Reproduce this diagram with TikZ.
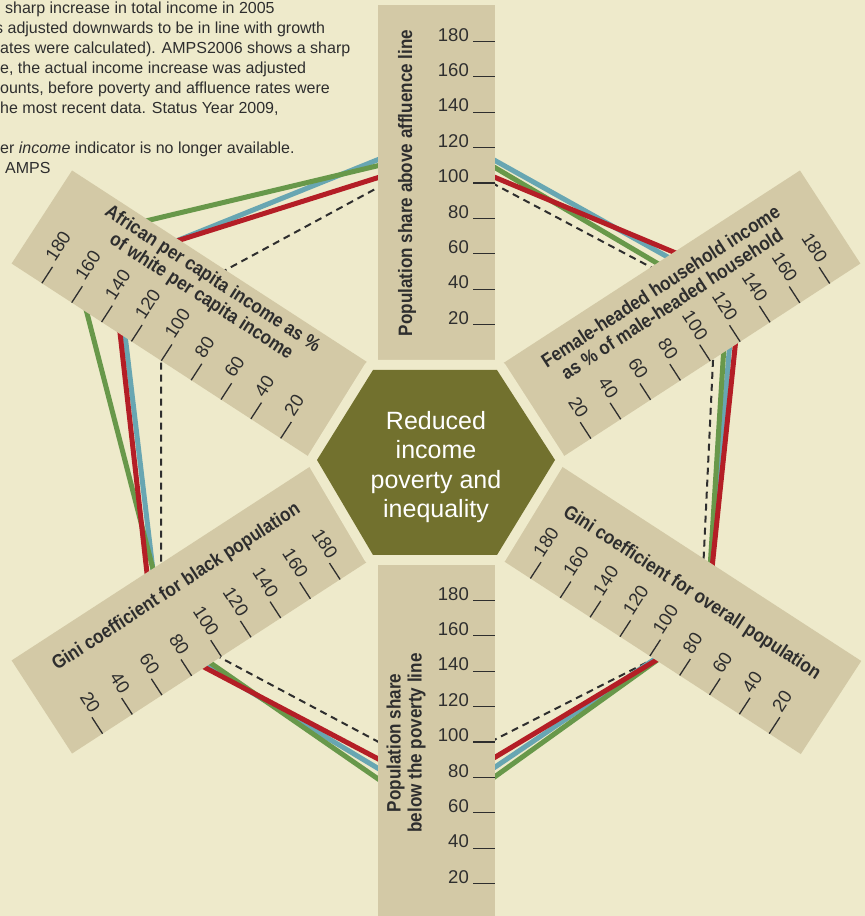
\documentclass[tikz,border=0pt]{standalone}
\usepackage{fontspec}
\setmainfont{Liberation Sans}
\newfontfamily\condbold{Liberation Sans}[FakeStretch=0.88]

\definecolor{bgcol}{HTML}{EEEACB}
\definecolor{barcol}{HTML}{D3C9A6}
\definecolor{hexcol}{HTML}{72712E}
\definecolor{ink}{HTML}{2E2E2E}
\definecolor{greenline}{HTML}{68984A}
\definecolor{blueline}{HTML}{68A6B2}
\definecolor{redline}{HTML}{B41E26}

\begin{document}
\begin{tikzpicture}[x=1pt, y=1pt,
	bar/.style={fill=barcol},
	tickline/.style={draw=ink, line width=1.3pt},
	num/.style={inner sep=0pt, text=ink, font=\fontsize{18.5}{21}\selectfont},
	bartitle/.style={inner sep=0pt, text=ink, align=center, font=\condbold\bfseries\fontsize{19.4}{21}\selectfont},
	series/.style={line width=5pt, line join=round}]

	\fill[bgcol] (0,0) rectangle (865,916);
	\useasboundingbox (0,0) rectangle (865,916);

	% data lines (corners sit under the bars)
	\draw[ink, line width=2pt, dash pattern=on 7pt off 5pt]
		(438.6,761.3) -- (715.8,614.4) -- (700,280.6) -- (433,145) -- (161,290) -- (161,611) -- cycle;
	\draw[series, blueline]  (445,783.4) -- (733.9,622) -- (706.6,292) -- (439,111) -- (161,278) -- (116.7,651) -- cycle;
	\draw[series, greenline] (459,769.6) -- (726.6,611.8) -- (706.5,291.3) -- (436,97) -- (170,281) -- (68,676.5) -- cycle;
	\draw[series, redline]   (445,759.5) -- (742,635.3) -- (705.5,285.5) -- (439,125) -- (154.6,275) -- (112,654.6) -- cycle;

	% top
	\begin{scope}[shift={(436,454)}, rotate=90]
		\fill[bar] (95,-58.5) rectangle (457,58.5);
		\foreach \v in {20,40,...,180} {
			\draw[tickline] ({279+(\v-100)*1.77},-37) -- ++(0,-21.5);
			\node[num, anchor=south east] (top\v) at ({279+(\v-100)*1.77},-33) {\v};
		}
		\node[bartitle, rotate=90] (topname) at (279,29) {Population share above affluence line};
	\end{scope}

	% upper right
	\begin{scope}[shift={(436,443)}, rotate=33]
		\fill[bar] (105,-55.5) rectangle (470,55.5);
		\foreach \v in {20,40,...,180} {
			\draw[tickline] ({291+(\v-100)*1.78},-36) -- ++(0,-19.5);
			\node[num, rotate=-57, anchor=south east] (ur\v) at ({291+(\v-100)*1.78},-33) {\v};
		}
		\node[bartitle, rotate=33] (urname) at (290,24) {Female-headed household income\\as \% of male-headed household};
	\end{scope}

	% lower right
	\begin{scope}[shift={(436,465)}, rotate=-33]
		\fill[bar] (105,-55.5) rectangle (471,55.5);
		\foreach \v in {20,40,...,180} {
			\draw[tickline] ({291-(\v-100)*1.78},-36) -- ++(0,-19.5);
			\node[num, rotate=57, anchor=south west] (lr\v) at ({291-(\v-100)*1.78},-32) {\v};
		}
		\node[bartitle, rotate=-33] (lrname) at (292,20) {Gini coefficient for overall population};
	\end{scope}

	% bottom
	\begin{scope}[shift={(436,454)}, rotate=-90]
		\fill[bar] (95,-58.5) rectangle (460,58.5);
		\foreach \v in {20,40,...,180} {
			\draw[tickline] ({280-(\v-100)*1.77},37) -- ++(0,21.5);
			\node[num, anchor=south east] (bt\v) at ({280-(\v-100)*1.77},33) {\v};
		}
		\node[bartitle, rotate=90] (btname) at (281,-30) {Population share\\below the poverty line};
	\end{scope}

	% lower left
	\begin{scope}[shift={(436,465)}, rotate=213]
		\fill[bar] (105,-55.5) rectangle (470,55.5);
		\foreach \v in {20,40,...,180} {
			\draw[tickline] ({292-(\v-100)*1.77},36) -- ++(0,19.5);
			\node[num, rotate=-57, anchor=south east] (ll\v) at ({292-(\v-100)*1.77},33) {\v};
		}
		\node[bartitle, rotate=33] (llname) at (292,-27) {Gini coefficient for black population};
	\end{scope}

	% upper left
	\begin{scope}[shift={(436,443)}, rotate=147]
		\fill[bar] (105,-55.5) rectangle (470,55.5);
		\foreach \v in {20,40,...,180} {
			\draw[tickline] ({291.5+(\v-100)*1.78},36) -- ++(0,19.5);
			\node[num, rotate=57, anchor=south west] (ul\v) at ({291.5+(\v-100)*1.78},31) {\v};
		}
		\node[bartitle, rotate=-33] (ulname) at (293,-30) {African per capita income as \%\\of white per capita income};
	\end{scope}

	% centre
	\fill[hexcol, preaction={draw=bgcol, line width=20pt, line join=round}]
		(317,456) -- (373,546) -- (497,546) -- (555,456) -- (497,361) -- (373,361) -- cycle;
	\node[text=white, align=center, font=\fontsize{25}{29.5}\selectfont] (goal) at (436,449)
		{Reduced\\income\\poverty and\\inequality};

	% note
	\node[anchor=north west, inner sep=0pt, align=left, text=ink, font=\fontsize{16}{20}\selectfont] (note) at (0,914)
		{\hspace*{5pt}sharp increase in total income in 2005\\
		\hspace*{-5pt}s adjusted downwards to be in line with growth\\
		ates were calculated). AMPS2006 shows a sharp\\
		e, the actual income increase was adjusted\\
		ounts, before poverty and affluence rates were\\
		he most recent data. Status Year 2009,\\[20pt]
		er \emph{income} indicator is no longer available.\\
		\hspace*{5pt}AMPS};
\end{tikzpicture}
\end{document}
